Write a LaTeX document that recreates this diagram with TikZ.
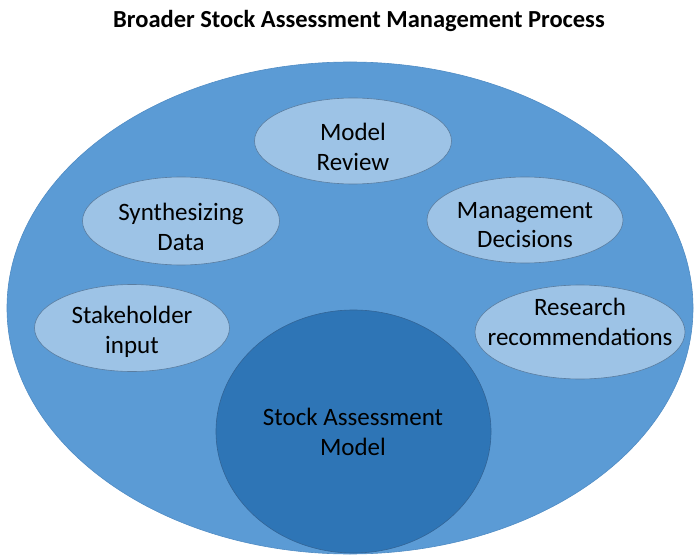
\documentclass[tikz,border=0pt]{standalone}
\usepackage{fontspec}
\setmainfont{Carlito}
\usetikzlibrary{shapes.geometric}
\definecolor{outerblue}{RGB}{91,155,213}
\definecolor{outerline}{RGB}{80,140,196}
\definecolor{lightblue}{RGB}{157,195,230}
\definecolor{lightline}{RGB}{90,125,160}
\definecolor{coreblue}{RGB}{46,117,182}
\definecolor{coreline}{RGB}{50,100,150}
\tikzset{
  bubble/.style={ellipse, fill=lightblue, draw=lightline, line width=0.6pt, inner sep=0pt},
  outer/.style={ellipse, fill=outerblue, draw=outerline, line width=0.6pt, inner sep=0pt},
  core/.style={ellipse, fill=coreblue, draw=coreline, line width=0.6pt, inner sep=0pt},
  txt/.style={align=center, font=\fontsize{25}{29.5}\selectfont, text=black, inner sep=0pt},
  ttl/.style={font=\fontsize{24.5}{28}\bfseries\selectfont, text=black, inner sep=0pt}
}
\begin{document}
\begin{tikzpicture}[x=1pt,y=-1pt]
\useasboundingbox (0,0) rectangle (696,556);
\node[ttl] (title) at (359,21) {Broader Stock Assessment Management Process};
\node[outer, minimum width=686, minimum height=492] (outer) at (350,308) {};
\node[core, minimum width=275, minimum height=243] (core) at (353.5,431.5) {};
\node[txt] (coretxt) at (353,432) {Stock Assessment\\Model};
\node[bubble, minimum width=197, minimum height=86] (mr) at (353,141) {};
\node[txt] (mrtxt) at (353,147) {Model\\Review};
\node[bubble, minimum width=197, minimum height=88] (sd) at (181,221) {};
\node[txt] (sdtxt) at (181,227) {Synthesizing\\Data};
\node[bubble, minimum width=196, minimum height=86] (md) at (525,220) {};
\node[txt] (mdtxt) at (525,225) {Management\\Decisions};
\node[bubble, minimum width=195, minimum height=87] (si) at (132,328) {};
\node[txt] (sitxt) at (132,332) {Stakeholder\\input};
\node[bubble, minimum width=210, minimum height=94] (rr) at (580,332) {};
\node[txt] (rrtxt) at (580,322) {Research\\recommendations};
\end{tikzpicture}
\end{document}
